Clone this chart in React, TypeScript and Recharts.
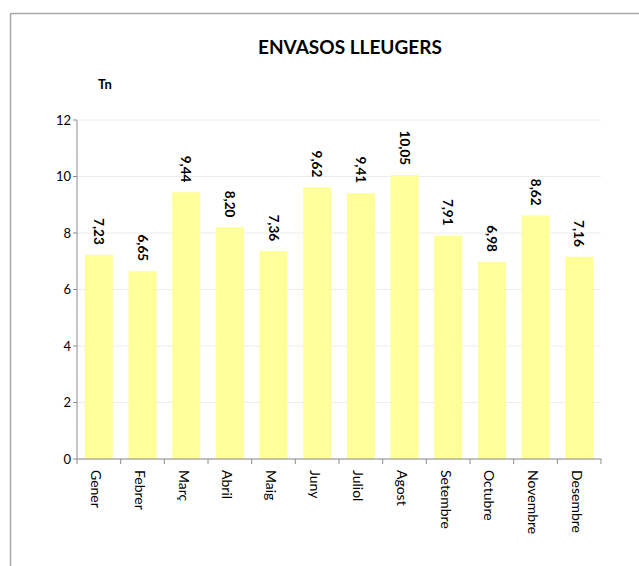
import React from 'react'
import { BarChart, Bar, XAxis, YAxis, CartesianGrid, LabelList } from 'recharts'

const months = ['Gener', 'Febrer', 'Març', 'Abril', 'Maig', 'Juny', 'Juliol', 'Agost', 'Setembre', 'Octubre', 'Novembre', 'Desembre']
const tones = [7.23, 6.65, 9.44, 8.2, 7.36, 9.62, 9.41, 10.05, 7.91, 6.98, 8.62, 7.16]
const yTicks = [0, 2, 4, 6, 8, 10, 12]

const data = months.map((month, i) => ({ month, value: tones[i] }))

const FONT = 'Lato, "Open Sans", sans-serif'
const AXIS = '#8c8c8c'
const FRAME = '#a6a6a6'

const fmt = (v: number) => v.toFixed(2).replace('.', ',')

function MonthTick(props: any) {
  const { x, y, payload, index } = props
  const half = payload?.offset ?? 0
  const tx = x - 2
  const ty = y + 11
  return (
    <g>
      <line x1={x - half} y1={y} x2={x - half} y2={y + 5} stroke={AXIS} />
      {index === months.length - 1 && (
        <line x1={x + half} y1={y} x2={x + half} y2={y + 5} stroke={AXIS} />
      )}
      <text
        x={tx}
        y={ty}
        transform={`rotate(90, ${tx}, ${ty})`}
        textAnchor="start"
        dominantBaseline="central"
        fontSize={14}
        fontFamily={FONT}
        fill="#000"
      >
        {payload.value}
      </text>
    </g>
  )
}

function ValueLabel(props: any) {
  const { x, y, width, value } = props
  const cx = x + width / 2
  const ty = y - 10
  return (
    <text
      x={cx}
      y={ty}
      transform={`rotate(90, ${cx}, ${ty})`}
      textAnchor="end"
      dominantBaseline="central"
      fontSize={13.5}
      fontWeight="bold"
      fontFamily={FONT}
      fill="#000"
    >
      {fmt(Number(value))}
    </text>
  )
}

export default function App() {
  return (
    <div
      style={{
        position: 'absolute',
        left: 0,
        top: 0,
        width: 639,
        height: 566,
        background: '#fff',
        overflow: 'hidden',
      }}
    >
      <div
        style={{
          position: 'absolute',
          left: 258,
          top: 35,
          fontFamily: FONT,
          fontWeight: 'bold',
          fontSize: 19,
          color: '#000',
          whiteSpace: 'nowrap',
        }}
      >
        ENVASOS LLEUGERS
      </div>
      <div
        style={{
          position: 'absolute',
          left: 98,
          top: 76,
          fontFamily: FONT,
          fontWeight: 'bold',
          fontSize: 13,
          color: '#000',
        }}
      >
        Tn
      </div>
      <div style={{ position: 'absolute', left: 0, top: 0 }}>
        <BarChart
          width={639}
          height={566}
          data={data}
          margin={{ top: 120, right: 38, left: 0, bottom: 0 }}
          barCategoryGap="18%"
        >
          {/* frame: only top and left edges show in the crop */}
          <line x1={10.5} y1={13.5} x2={639} y2={13.5} stroke={FRAME} strokeWidth={1.5} />
          <line x1={10.5} y1={13.5} x2={10.5} y2={566} stroke={FRAME} strokeWidth={1.5} />
          <CartesianGrid vertical={false} stroke="#ececec" />
          <XAxis
            dataKey="month"
            interval={0}
            height={107}
            stroke={AXIS}
            tickLine={false}
            tickSize={0}
            tickMargin={0}
            tick={<MonthTick />}
          />
          <YAxis
            domain={[0, 12]}
            ticks={yTicks}
            width={77}
            stroke={AXIS}
            tickSize={4}
            tick={{ fill: '#000', fontSize: 13, fontFamily: FONT }}
            interval={0}
          />
          <Bar dataKey="value" fill="#ffff99" isAnimationActive={false}>
            <LabelList dataKey="value" content={<ValueLabel />} />
          </Bar>
        </BarChart>
      </div>
    </div>
  )
}
